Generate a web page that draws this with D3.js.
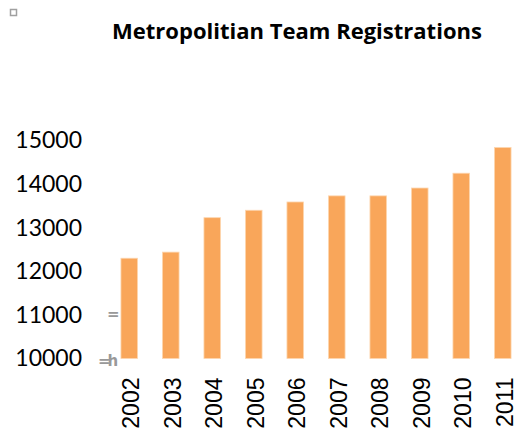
<!DOCTYPE html>
<html>
<head>
<meta charset="utf-8">
<script src="https://cdn.jsdelivr.net/npm/d3@7"></script>
<style>
  body { margin: 0; background: #fff; }
  svg { display: block; }
</style>
</head>
<body>
<div id="chart"></div>
<script>
// chart data
const years = ["2002", "2003", "2004", "2005", "2006", "2007", "2008", "2009", "2010", "2011"];
const registrations = [12300, 12440, 13230, 13400, 13590, 13730, 13730, 13910, 14250, 14840];
const yTicks = [10000, 11000, 12000, 13000, 14000, 15000];
const chartTitle = "Metropolitian Team Registrations";

const width = 517, height = 430;

const svg = d3.select("#chart").append("svg")
    .attr("width", width)
    .attr("height", height);

// scales
const x = d3.scaleBand()
    .domain(years)
    .range([108.5, 523.5])
    .paddingInner(0.6)
    .paddingOuter(0.3);

const y = d3.scaleLinear()
    .domain([10000, 15000])
    .range([358.5, 140.5]);

// small window icon top-left
svg.append("rect")
    .attr("x", 10.5).attr("y", 9.5)
    .attr("width", 6).attr("height", 6)
    .attr("fill", "#fff")
    .attr("stroke", "#a0a0a0")
    .attr("stroke-width", 1.5);

// title, sized so it spans roughly the same width as the reference
const title = svg.append("text")
    .attr("x", 297)
    .attr("y", 39)
    .attr("text-anchor", "middle")
    .attr("font-family", "'Open Sans', Lato, sans-serif")
    .attr("font-weight", "bold")
    .attr("font-size", "20px")
    .attr("fill", "#000")
    .text(chartTitle);
const tw = title.node().getComputedTextLength();
if (tw > 0) title.attr("font-size", (20 * 370 / tw).toFixed(2) + "px");

// bars
svg.append("g").selectAll("rect")
    .data(years)
    .enter().append("rect")
    .attr("x", d => x(d))
    .attr("width", x.bandwidth())
    .attr("y", (d, i) => y(registrations[i]))
    .attr("height", (d, i) => y(10000) - y(registrations[i]))
    .attr("fill", "#f9a65a")
    .attr("stroke", "#fdd6b0")
    .attr("stroke-width", 0.8);

// y axis (labels only)
const yAxis = svg.append("g")
    .attr("transform", "translate(82,0)")
    .call(d3.axisLeft(y).tickValues(yTicks).tickSize(0).tickPadding(0).tickFormat(d3.format("d")));
yAxis.select(".domain").remove();
yAxis.selectAll("text")
    .attr("font-family", "Lato, 'Open Sans', sans-serif")
    .attr("font-size", "23px")
    .attr("fill", "#000");

// x axis (rotated labels)
const xAxis = svg.append("g")
    .attr("transform", "translate(0," + y(10000) + ")")
    .call(d3.axisBottom(x).tickSize(0));
xAxis.select(".domain").remove();
xAxis.selectAll("text")
    .attr("transform", "rotate(-90)")
    .attr("text-anchor", "end")
    .attr("x", -19)
    .attr("y", 10)
    .attr("dy", 0)
    .attr("font-family", "'Liberation Sans', Arial, sans-serif")
    .attr("font-size", "23px")
    .attr("fill", "#000");

// stray gray marks beside the axis
svg.append("text")
    .attr("x", 107).attr("y", 319)
    .attr("font-family", "'DejaVu Sans', sans-serif")
    .attr("font-weight", "bold")
    .attr("font-size", "15px")
    .attr("fill", "#999")
    .text("=");
svg.append("text")
    .attr("x", 98).attr("y", 366)
    .attr("font-family", "'DejaVu Sans', sans-serif")
    .attr("font-weight", "bold")
    .attr("font-size", "15px")
    .attr("fill", "#999")
    .attr("letter-spacing", "-3px")
    .text("=h");
</script>
</body>
</html>
